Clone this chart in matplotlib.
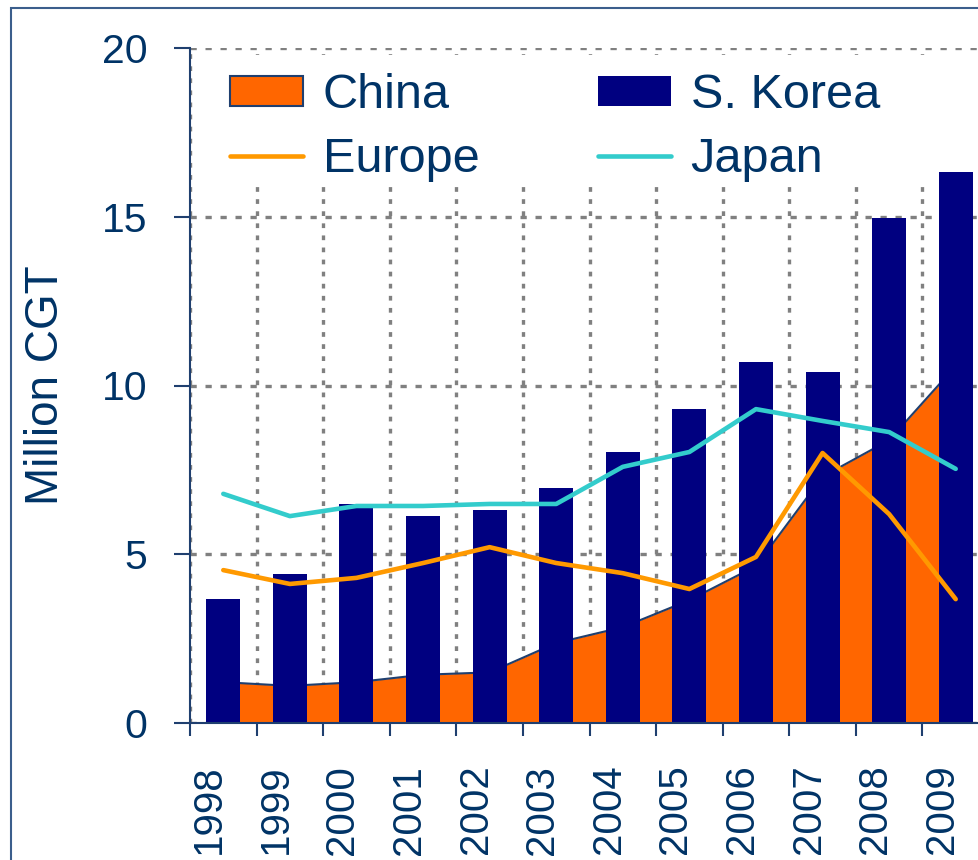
import matplotlib
matplotlib.use("Agg")
import matplotlib.pyplot as plt
import matplotlib.transforms as mtransforms
from matplotlib.patches import Rectangle, Patch
from matplotlib.lines import Line2D
import numpy as np

# values (million CGT)
years = ["1998", "1999", "2000", "2001", "2002", "2003",
         "2004", "2005", "2006", "2007", "2008", "2009"]
s_korea = [3.67, 4.41, 6.49, 6.13, 6.31, 6.96, 8.03, 9.30, 10.70, 10.40, 14.96, 16.33]
china = [1.21, 1.10, 1.21, 1.43, 1.50, 2.37, 2.84, 3.64, 4.65, 7.30, 8.38, 10.58]
europe = [4.53, 4.12, 4.30, 4.74, 5.21, 4.74, 4.44, 3.97, 4.92, 8.00, 6.19, 3.67]
japan = [6.79, 6.13, 6.43, 6.43, 6.49, 6.49, 7.59, 8.03, 9.30, 8.95, 8.62, 7.53]

text_col = "#003366"
axis_col = "#1F3F6F"
korea_col = "#000080"
china_col = "#FF6600"
europe_col = "#FF9900"
japan_col = "#33CCCC"
grid_col = "#808080"

plt.rcParams["font.family"] = ["Liberation Sans", "DejaVu Sans"]
plt.rcParams["lines.scale_dashes"] = False

fig = plt.figure(figsize=(9.79, 8.6), dpi=100)
ax = fig.add_axes([190 / 979, 137 / 860, 799 / 979, 675 / 860])

x = np.arange(len(years))

# outer frame of the slide, cut off at right and bottom
fig.patches.append(Rectangle((11 / 979, -0.1), 1.2, 1.1 - 8 / 860,
                             transform=fig.transFigure, fill=False,
                             ec="#3B5E8C", lw=1.5))

# China as a filled area behind the bars
ax.fill_between(x, china, color=china_col, lw=0, zorder=1)
ax.plot(x, china, color=axis_col, lw=1.5, zorder=1.1)

ax.bar(x, s_korea, width=0.51, color=korea_col, zorder=2)

ax.plot(x, europe, color=europe_col, lw=3.3, zorder=3, solid_capstyle="round")
ax.plot(x, japan, color=japan_col, lw=3.3, zorder=3, solid_capstyle="round")

ax.set_xlim(-0.5, 11.5)
ax.set_ylim(0, 20)
ax.set_yticks([0, 5, 10, 15, 20])
ax.set_xticks(x)
ax.set_xticklabels(years)
ax.set_xticks(np.arange(-0.5, 12, 1), minor=True)

ax.set_axisbelow(True)
ax.yaxis.grid(True, color=grid_col, lw=2.4, linestyle=(0, (4.5, 6.3)))
ax.xaxis.grid(True, which="minor", color=grid_col, lw=2.4, linestyle=(0, (3.4, 5.3)))
ax.xaxis.grid(False, which="major")

# white area behind the legend hides the grid
ax.add_patch(Rectangle((-0.45, 16.0), 12, 3.8, fc="white", ec="none", zorder=0.8))

for side in ["top", "right"]:
    ax.spines[side].set_visible(False)
for side in ["left", "bottom"]:
    ax.spines[side].set_color(axis_col)
    ax.spines[side].set_linewidth(1.5)

ax.tick_params(axis="y", length=11.5, width=1.5, color=axis_col,
               labelsize=29.5, labelcolor=text_col, pad=19)
ax.tick_params(axis="x", which="major", length=0, labelsize=29,
               labelcolor=text_col, pad=30, labelrotation=90)
ax.tick_params(axis="x", which="minor", length=9.4, width=1.5, color=axis_col)

shift = mtransforms.ScaledTranslation(-0.14, 0, fig.dpi_scale_trans)
for lbl in ax.get_xticklabels():
    lbl.set_transform(lbl.get_transform() + shift)

ax.set_ylabel("Million CGT", fontsize=33, color=text_col)
ax.yaxis.set_label_coords(-0.1527, 0.5)

handles = [Patch(fc=china_col, ec=axis_col, lw=1.5),
           Line2D([], [], color=europe_col, lw=3.3, solid_capstyle="round"),
           Patch(fc=korea_col, ec="none"),
           Line2D([], [], color=japan_col, lw=3.3, solid_capstyle="round")]
labels = ["China", "Europe", "S. Korea", "Japan"]
ax.legend(handles, labels, ncol=2, loc="upper left", bbox_to_anchor=(0.05, 0.963),
          frameon=False, fontsize=35, handlelength=1.5, handleheight=0.56,
          handletextpad=0.41, columnspacing=2.43, labelspacing=0.39,
          borderpad=0, borderaxespad=0, labelcolor=text_col)

fig.savefig("out.png", dpi=100)
